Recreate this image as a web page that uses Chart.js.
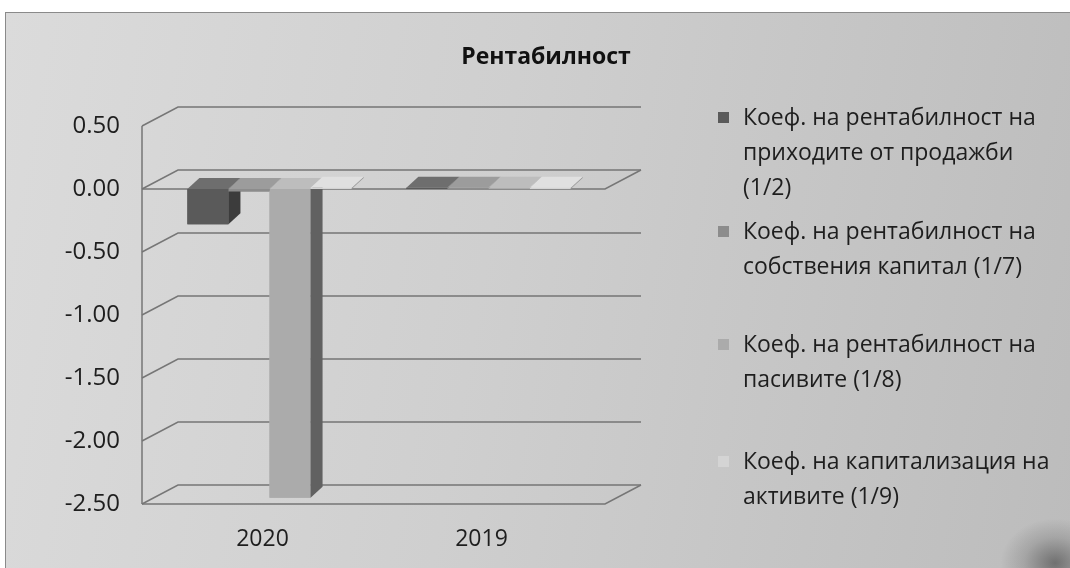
<!DOCTYPE html>
<html>
<head>
<meta charset="utf-8">
<script src="https://cdn.jsdelivr.net/npm/chart.js@4.4.1/dist/chart.umd.min.js"></script>
<style>
  body { margin: 0; background: #fff; width: 1070px; height: 568px; overflow: hidden; font-family: "Open Sans", sans-serif; }
  #frame { position: absolute; left: 5px; top: 12px; width: 1065px; height: 556px; box-sizing: border-box;
           border-top: 1px solid #8a8a8a; border-left: 1px solid #8a8a8a;
           background: linear-gradient(100deg, #dbdbdb 0%, #cfcfcf 45%, #bcbcbc 100%); overflow: hidden; }
  #corner { position: absolute; right: -40px; bottom: -40px; width: 110px; height: 90px;
            background: radial-gradient(ellipse, rgba(80,80,80,0.7) 0%, rgba(120,120,120,0.35) 40%, rgba(190,190,190,0) 70%); }
  #box { position: absolute; left: 0; top: 0; width: 1064px; height: 555px; }
  #title { position: absolute; left: 450px; width: 180px; top: 26px; text-align: center;
           font-size: 23px; font-weight: bold; color: #111; }
  .item { position: absolute; left: 712px; font-size: 23px; line-height: 35px; color: #1e1e1e; }
  .item i { position: absolute; left: 0; top: 13px; width: 11px; height: 11px; }
  .item span { display: block; margin-left: 25px; }
</style>
</head>
<body>
<div id="frame">
  <div id="corner"></div>
  <div id="box"><canvas id="rentChart"></canvas></div>
  <div id="title">Рентабилност</div>
  <div id="legend"></div>
</div>
<script>
var years = ['2020', '2019'];
var seriesNames = [
  ['Коеф. на рентабилност на', 'приходите от продажби', '(1/2)'],
  ['Коеф. на рентабилност на', 'собствения капитал (1/7)'],
  ['Коеф. на рентабилност на', 'пасивите (1/8)'],
  ['Коеф. на капитализация на', 'активите (1/9)']
];
var salesReturn = [-0.28, 0.01];
var equityReturn = [-0.02, 0.01];
var liabilitiesReturn = [-2.45, 0.01];
var assetsCapital = [0.01, 0.01];
var yTicks = [0.5, 0, -0.5, -1, -1.5, -2, -2.5];

// front / side / top shades for each series
var shades = [
  ['#5a5a5a', '#3c3c3c', '#6e6e6e'],
  ['#8c8c8c', '#5e5e5e', '#9c9c9c'],
  ['#ababab', '#616161', '#bdbdbd'],
  ['#d4d4d4', '#9a9a9a', '#e0e0e0']
];
var legendTops = [86, 200, 313, 430];

var DX = 36, DY = -19;   // wall depth
var BX = 12, BY = -11;   // bar depth
var WL = 18, WR = 7;     // walls reach a bit past the plot area

var depth3d = {
  id: 'depth3d',
  beforeDatasetsDraw: function (chart) {
    var ctx = chart.ctx, a = chart.chartArea, y = chart.scales.y;
    var left = a.left - WL, right = a.right + WR;
    ctx.save();
    ctx.strokeStyle = '#767676';
    ctx.lineWidth = 1.5;
    y.ticks.forEach(function (t) {
      var py = y.getPixelForValue(t.value);
      ctx.beginPath();
      ctx.moveTo(left, py);
      ctx.lineTo(left + DX, py + DY);
      ctx.lineTo(right + DX, py + DY);
      ctx.stroke();
    });
    ctx.beginPath();
    ctx.moveTo(left, y.getPixelForValue(y.max));
    ctx.lineTo(left, y.getPixelForValue(y.min));
    ctx.stroke();
    [0, y.min].forEach(function (v) {
      var py = y.getPixelForValue(v);
      ctx.beginPath();
      ctx.moveTo(left, py);
      ctx.lineTo(right, py);
      ctx.lineTo(right + DX, py + DY);
      ctx.stroke();
    });
    ctx.restore();
  },
  afterDatasetsDraw: function (chart) {
    var ctx = chart.ctx, bars = [];
    chart.data.datasets.forEach(function (ds, i) {
      chart.getDatasetMeta(i).data.forEach(function (el) { bars.push({ el: el, s: i }); });
    });
    bars.sort(function (p, q) { return p.el.x - q.el.x; });
    ctx.save();
    bars.forEach(function (b) {
      var el = b.el, c = shades[b.s];
      var l = el.x - el.width / 2, r = el.x + el.width / 2;
      var t = Math.min(el.y, el.base), btm = Math.max(el.y, el.base);
      ctx.fillStyle = c[0];
      ctx.fillRect(l, t, r - l, btm - t);
      ctx.fillStyle = c[1];
      ctx.beginPath();
      ctx.moveTo(r, t); ctx.lineTo(r + BX, t + BY); ctx.lineTo(r + BX, btm + BY); ctx.lineTo(r, btm);
      ctx.closePath(); ctx.fill();
      ctx.fillStyle = c[2];
      ctx.beginPath();
      ctx.moveTo(l, t); ctx.lineTo(l + BX, t + BY); ctx.lineTo(r + BX, t + BY); ctx.lineTo(r, t);
      ctx.closePath(); ctx.fill();
    });
    ctx.restore();
  }
};

var values = [salesReturn, equityReturn, liabilitiesReturn, assetsCapital];
var ctx = document.getElementById('rentChart').getContext('2d');
var chart = new Chart(ctx, {
  type: 'bar',
  data: {
    labels: years,
    datasets: values.map(function (v, i) {
      return { label: seriesNames[i].join(' '), data: v, backgroundColor: shades[i][0],
               categoryPercentage: 0.75, barPercentage: 1 };
    })
  },
  options: {
    responsive: true,
    maintainAspectRatio: false,
    animation: false,
    layout: { padding: { left: 0, right: 472, top: 113, bottom: 0 } },
    plugins: {
      legend: { display: false },
      tooltip: { enabled: false },
      title: { display: false }
    },
    scales: {
      x: {
        afterFit: function (s) { s.height = 64; },
        grid: { display: false, drawTicks: false },
        border: { display: false },
        ticks: { color: '#1e1e1e', padding: 22, labelOffset: -7, font: { family: 'Open Sans', size: 23 } }
      },
      y: {
        min: -2.5,
        max: 0.5,
        afterFit: function (s) { s.width = 154; },
        afterBuildTicks: function (s) { s.ticks = yTicks.map(function (v) { return { value: v }; }); },
        grid: { display: false, drawTicks: false },
        border: { display: false },
        ticks: {
          color: '#1e1e1e', padding: 40, font: { family: 'Open Sans', size: 24 },
          callback: function (v) { return Number(v).toFixed(2); }
        }
      }
    }
  },
  plugins: [depth3d]
});

var legend = document.getElementById('legend');
seriesNames.forEach(function (lines, i) {
  var d = document.createElement('div');
  d.className = 'item';
  d.style.top = legendTops[i] + 'px';
  var m = document.createElement('i');
  m.style.background = shades[i][0];
  d.appendChild(m);
  var s = document.createElement('span');
  s.innerHTML = lines.join('<br>');
  d.appendChild(s);
  legend.appendChild(d);
});
</script>
</body>
</html>
